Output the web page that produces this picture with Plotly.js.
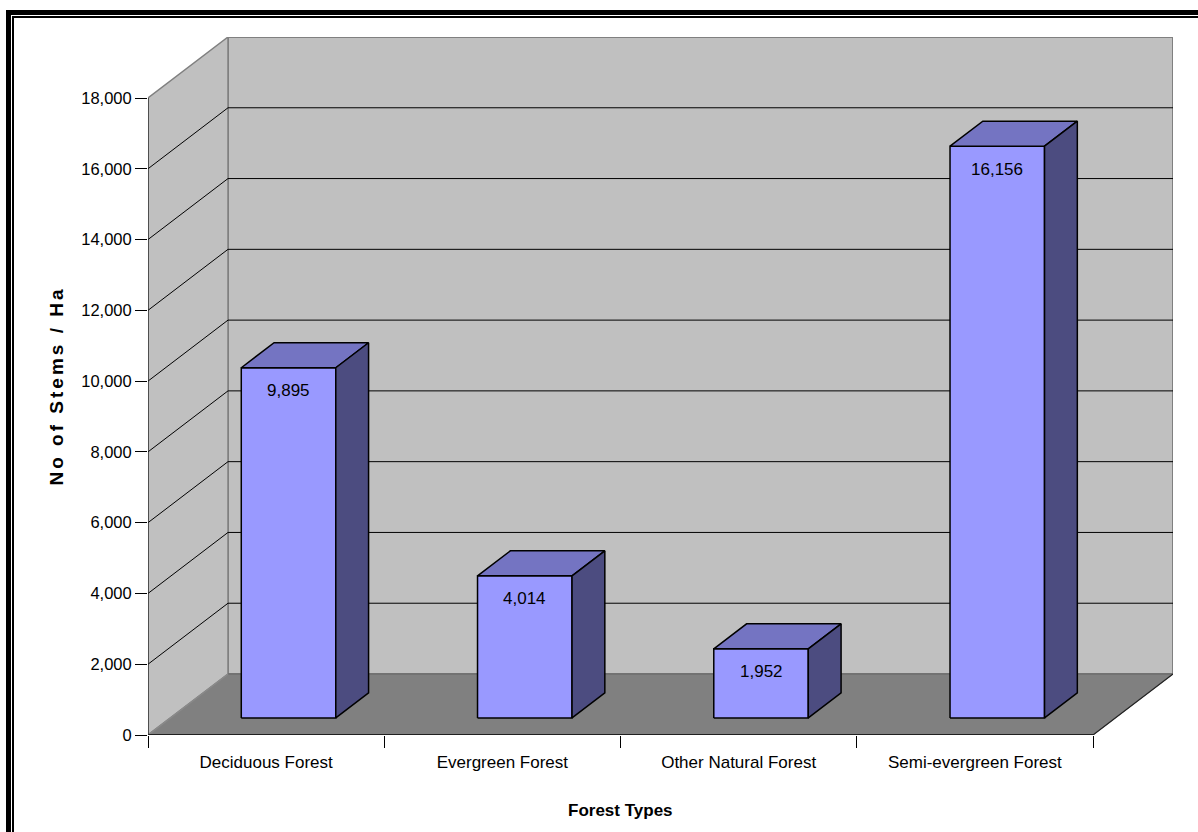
<!DOCTYPE html>
<html>
<head>
<meta charset="utf-8">
<script src="https://cdn.plot.ly/plotly-3.0.1.min.js"></script>
<style>
  html, body { margin: 0; padding: 0; background: #fff; }
  #wrap { position: relative; width: 1198px; height: 832px; overflow: hidden; }
  #chart { position: absolute; left: 0; top: 0; width: 1198px; height: 832px; }
  .b1 { position: absolute; left: 6px; top: 10px; right: -20px; bottom: -20px; border-left: 5px solid #000; border-top: 5px solid #000; pointer-events: none; }
  .b2 { position: absolute; left: 12px; top: 16px; right: -20px; bottom: -20px; border-left: 2px solid #000; border-top: 2px solid #000; pointer-events: none; }
</style>
</head>
<body>
<div id="wrap">
  <div id="chart"></div>
  <div class="b1"></div>
  <div class="b2"></div>
</div>
<script>
// ---- data ----
const categories = ['Deciduous Forest', 'Evergreen Forest', 'Other Natural Forest', 'Semi-evergreen Forest'];
const stemsPerHa = [9895, 4014, 1952, 16156];
const yTickValues = [0, 2000, 4000, 6000, 8000, 10000, 12000, 14000, 16000, 18000];
const xAxisTitle = 'Forest Types';
const yAxisTitle = 'No of Stems / Ha';

// ---- layout / style constants ----
const W = 1198, H = 832;
const PLOT_L = 148, FRONT_R = 1093, BACK_R = 1173, PLOT_T = 37, PLOT_B = 735;
const DEPTH_X = 80, DEPTH_Y = 61;           // oblique depth in px
const BAR_D1 = 0.28, BAR_D2 = 0.69;          // bar front/back depth fraction
const BAR_W = 0.4;                            // bar width in category units
const FONT = 'Liberation Sans, Arial, sans-serif';

const yMax = yTickValues[yTickValues.length - 1];
const n = categories.length;
const CAT_PX = (FRONT_R - PLOT_L) / n;
const VAL_PX = (PLOT_B - PLOT_T - DEPTH_Y) / yMax;
const DXu = DEPTH_X / CAT_PX;
const DYu = DEPTH_Y / VAL_PX;
const x0 = -0.5, x1 = n - 0.5;

function off(x, y, d) { return [x + d * DXu, y + d * DYu]; }

// ---- walls, floor, gridlines as shapes ----
function path(pts) { return 'M' + pts.map(p => p[0] + ',' + p[1]).join('L') + 'Z'; }
function line(a, b, color, w) {
  return { type: 'line', xref: 'x', yref: 'y', layer: 'below', x0: a[0], y0: a[1], x1: b[0], y1: b[1], line: { color: color, width: w } };
}
const shapes = [];
// back wall
shapes.push({ type: 'path', xref: 'x', yref: 'y', layer: 'below',
  path: path([off(x0, 0, 1), off(x1, 0, 1), off(x1, yMax, 1), off(x0, yMax, 1)]),
  fillcolor: '#c0c0c0', line: { color: '#808080', width: 2 } });
// side wall
shapes.push({ type: 'path', xref: 'x', yref: 'y', layer: 'below',
  path: path([[x0, 0], off(x0, 0, 1), off(x0, yMax, 1), [x0, yMax]]),
  fillcolor: '#c0c0c0', line: { color: '#808080', width: 1.5 } });
// gridlines
yTickValues.slice(1, -1).forEach(t => {
  shapes.push(line([x0, t], off(x0, t, 1), '#000', 1));
  shapes.push(line(off(x0, t, 1), off(x1, t, 1), '#000', 1));
});
// floor
shapes.push({ type: 'path', xref: 'x', yref: 'y', layer: 'below',
  path: path([[x0, 0], [x1, 0], off(x1, 0, 1), off(x0, 0, 1)]),
  fillcolor: '#808080', line: { color: '#808080', width: 1 } });
shapes.push(line(off(x0, 0, 1), off(x1, 0, 1), '#6e6e6e', 1.5));
shapes.push(line([x0, 0], off(x0, 0, 1), '#8a8a8a', 1.5));
shapes.push(line([x0, 0], [x1, 0], '#000', 1.5));
shapes.push(line([x1, 0], off(x1, 0, 1), '#222', 1.2));
// front vertical edge (value axis line)
shapes.push(line([x0, 0], [x0, yMax], '#222', 1.2));

// ---- bars as filled faces ----
const fx = [], fy = [], tx = [], ty = [], sx = [], sy = [];
function push(ax, ay, pts) { pts.forEach(p => { ax.push(p[0]); ay.push(p[1]); }); ax.push(pts[0][0]); ay.push(pts[0][1]); ax.push(null); ay.push(null); }
stemsPerHa.forEach((v, i) => {
  const L = i - BAR_W / 2, R = i + BAR_W / 2;
  const fL0 = off(L, 0, BAR_D1), fR0 = off(R, 0, BAR_D1), fRv = off(R, v, BAR_D1), fLv = off(L, v, BAR_D1);
  const bLv = off(L, v, BAR_D2), bRv = off(R, v, BAR_D2), bR0 = off(R, 0, BAR_D2);
  push(fx, fy, [fL0, fR0, fRv, fLv]);
  push(tx, ty, [fLv, fRv, bRv, bLv]);
  push(sx, sy, [fR0, bR0, bRv, fRv]);
});
function face(x, y, color) {
  return { type: 'scatter', mode: 'lines', x: x, y: y, fill: 'toself', fillcolor: color,
    line: { color: '#000', width: 1.5 }, hoverinfo: 'skip', showlegend: false, xaxis: 'x', yaxis: 'y' };
}
const traces = [face(fx, fy, '#9999ff'), face(tx, ty, '#7474c2'), face(sx, sy, '#4c4c80')];

// ---- data labels ----
const annotations = stemsPerHa.map((v, i) => {
  const p = off(i, v, BAR_D1);
  return { x: p[0], y: p[1], xref: 'x', yref: 'y', text: v.toLocaleString('en-US'), showarrow: false,
    yshift: -23, font: { family: FONT, size: 17, color: '#000' } };
});
// x-axis title centred under the front axis
annotations.push({ x: (x0 + x1) / 2, y: 0, xref: 'x', yref: 'paper', yanchor: 'middle', yshift: -75,
  text: xAxisTitle, showarrow: false, font: { family: FONT, size: 17, color: '#000', weight: 'bold' } });

const layout = {
  width: W, height: H,
  margin: { l: PLOT_L, r: W - BACK_R, t: PLOT_T, b: H - PLOT_B, pad: 0 },
  paper_bgcolor: '#fff', plot_bgcolor: 'rgba(0,0,0,0)',
  showlegend: false,
  xaxis: { range: [x0, x1 + DXu], tickvals: categories.map((c, i) => i), ticktext: categories,
    ticks: 'outside', ticklen: 12, tickcolor: 'rgba(0,0,0,0)', showgrid: false, zeroline: false, showline: false,
    tickfont: { family: FONT, size: 17, color: '#000' }, fixedrange: true },
  xaxis2: { overlaying: 'x', range: [x0, x1 + DXu], tickvals: categories.map((c, i) => i - 0.5).concat([x1]),
    ticks: 'outside', ticklen: 12, tickcolor: '#000', tickwidth: 1, showticklabels: false, showgrid: false,
    zeroline: false, showline: false, side: 'bottom', anchor: 'y' },
  yaxis: { range: [0, yMax + DYu], tickvals: yTickValues, ticktext: yTickValues.map(v => v.toLocaleString('en-US')),
    ticks: 'outside', ticklen: 12, tickcolor: '#000', tickwidth: 1, showgrid: false, zeroline: false, showline: false,
    tickfont: { family: FONT, size: 16.5, color: '#000' }, fixedrange: true,
    title: { text: '<span style="letter-spacing:3px;font-size:19px">' + yAxisTitle + '</span>',
      font: { family: FONT, size: 19, color: '#000', weight: 'bold' }, standoff: 12 } },
  shapes: shapes,
  annotations: annotations
};
traces.push({ type: 'scatter', x: [x0], y: [0], xaxis: 'x2', yaxis: 'y', mode: 'markers', marker: { opacity: 0 }, hoverinfo: 'skip', showlegend: false });

Plotly.newPlot('chart', traces, layout, { staticPlot: true, displayModeBar: false });
</script>
</body>
</html>
